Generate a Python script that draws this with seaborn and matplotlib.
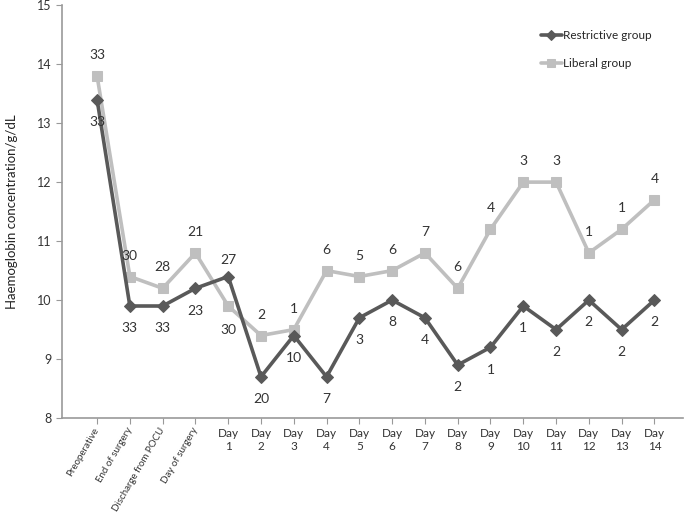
import matplotlib
matplotlib.use("Agg")
import matplotlib.pyplot as plt
import seaborn as sns
import pandas as pd

# categories on the x axis
time_points = ["Preoperative", "End of surgery", "Discharge from POCU", "Day of surgery",
               "Day\n1", "Day\n2", "Day\n3", "Day\n4", "Day\n5", "Day\n6", "Day\n7",
               "Day\n8", "Day\n9", "Day\n10", "Day\n11", "Day\n12", "Day\n13", "Day\n14"]

# haemoglobin means
restrictive_hb = [13.4, 9.9, 9.9, 10.2, 10.4, 8.7, 9.4, 8.7, 9.7, 10.0, 9.7, 8.9, 9.2, 9.9, 9.5, 10.0, 9.5, 10.0]
liberal_hb = [13.8, 10.4, 10.2, 10.8, 9.9, 9.4, 9.5, 10.5, 10.4, 10.5, 10.8, 10.2, 11.2, 12.0, 12.0, 10.8, 11.2, 11.7]

# number of patients at each point
restrictive_n = [33, 33, 33, 23, 27, 20, 10, 7, 3, 8, 4, 2, 1, 1, 2, 2, 2, 2]
liberal_n = [33, 30, 28, 21, 30, 2, 1, 6, 5, 6, 7, 6, 4, 3, 3, 1, 1, 4]

sns.set_style("ticks")
plt.rcParams['font.family'] = ['Lato', 'DejaVu Sans']

dark = "#595959"
light = "#bfbfbf"

df = pd.DataFrame({"pos": list(range(len(time_points))),
                   "restrictive": restrictive_hb,
                   "liberal": liberal_hb})

fig = plt.figure(figsize=(6.85, 5.13), dpi=100)
ax = fig.add_axes([0.0905, 0.185, 0.9065, 0.805])

sns.lineplot(data=df, x="pos", y="restrictive", ax=ax, color=dark, lw=2.6,
             marker="D", markersize=6.5, markeredgecolor=dark, label="Restrictive group")
sns.lineplot(data=df, x="pos", y="liberal", ax=ax, color=light, lw=2.6,
             marker="s", markersize=7.5, markeredgecolor=light, label="Liberal group")
# restrictive drawn above liberal where they cross
ax.lines[0].set_zorder(3)

# patient counts: liberal above, restrictive below (day 1 swapped)
for i in range(len(time_points)):
    up_r = -16
    up_l = 15
    if i == 4:
        up_r, up_l = 12, -17
    ax.annotate(str(restrictive_n[i]), (i, restrictive_hb[i]), xytext=(0, up_r),
                textcoords="offset points", ha="center", va="center", fontsize=10, color="#333333")
    ax.annotate(str(liberal_n[i]), (i, liberal_hb[i]), xytext=(0, up_l),
                textcoords="offset points", ha="center", va="center", fontsize=10, color="#333333")

ax.set_xlim(-1.07, 17.87)
ax.set_ylim(8, 15)
ax.set_yticks(range(8, 16))
ax.set_xticks(range(len(time_points)))
ax.set_xticklabels(time_points, fontsize=8.5)
for lab in ax.get_xticklabels()[:4]:
    lab.set_rotation(60)
    lab.set_ha("right")
    lab.set_va("center")
    lab.set_rotation_mode("anchor")
    lab.set_fontsize(7)
ax.tick_params(axis="y", labelsize=9, colors="#333333", length=4, color="#999999")
ax.tick_params(axis="x", colors="#333333", length=4, color="#999999", pad=3)

ax.set_xlabel("")
ax.set_ylabel("Haemoglobin concentration/g/dL", fontsize=9.5, color="#222222", labelpad=14)

for side in ["top", "right"]:
    ax.spines[side].set_visible(False)
for side in ["left", "bottom"]:
    ax.spines[side].set_color("#999999")
    ax.spines[side].set_linewidth(1.2)

ax.legend(loc="upper left", bbox_to_anchor=(0.755, 0.965), frameon=False, fontsize=8.5,
          handlelength=1.7, handletextpad=0.1, labelspacing=1.45, markerscale=0.8)

fig.savefig("out.png", dpi=100)
